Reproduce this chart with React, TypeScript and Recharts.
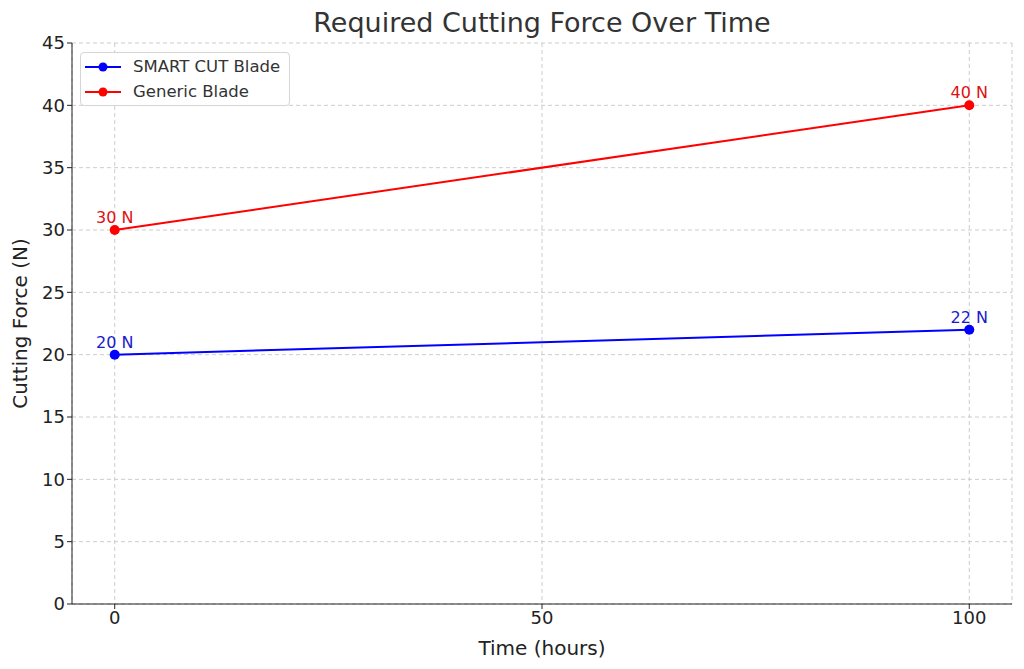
import React from 'react';
import { LineChart, Line, XAxis, YAxis, CartesianGrid, LabelList } from 'recharts';

const hours = [0, 100];
const smartCut = [20, 22];
const generic = [30, 40];
const yTicks = [0, 5, 10, 15, 20, 25, 30, 35, 40, 45];
const xTicks = [0, 50, 100];

const FONT = '"DejaVu Sans", Verdana, sans-serif';

const data = hours.map((h, i) => ({ time: h, smart: smartCut[i], generic: generic[i] }));

const legendItems = [
  { name: 'SMART CUT Blade', color: '#0000ff' },
  { name: 'Generic Blade', color: '#ff0000' },
];

const LegendBox = () => (
  <div
    style={{
      position: 'absolute',
      left: 80,
      top: 52,
      width: 210,
      height: 54,
      boxSizing: 'border-box',
      border: '1px solid #d5d5d5',
      borderRadius: 4,
      background: 'rgba(255,255,255,0.85)',
      padding: '1px 4px',
      fontFamily: FONT,
      fontSize: 16.5,
      color: '#333',
      whiteSpace: 'nowrap',
    }}
  >
    {legendItems.map((s) => (
      <div key={s.name} style={{ display: 'flex', alignItems: 'center', height: 25 }}>
        <svg width={36} height={12} style={{ marginRight: 12, flexShrink: 0 }}>
          <line x1={0} y1={6} x2={36} y2={6} stroke={s.color} strokeWidth={2} />
          <circle cx={18} cy={6} r={4.5} fill={s.color} />
        </svg>
        {s.name}
      </div>
    ))}
  </div>
);

const App = () => (
  <div style={{ position: 'absolute', left: 0, top: 0, width: 1024, height: 669, background: '#fff' }}>
    <div
      style={{
        position: 'absolute',
        top: 7,
        left: 0,
        width: 1024,
        textAlign: 'center',
        fontFamily: FONT,
        fontSize: 27,
        color: '#333',
        paddingLeft: 60,
        boxSizing: 'border-box',
      }}
    >
      Required Cutting Force Over Time
    </div>
    <LineChart width={1024} height={669} data={data} margin={{ top: 43, right: 12, bottom: 0, left: 0 }}>
      <CartesianGrid stroke="#cccccc" strokeDasharray="4 3" />
      <XAxis
        dataKey="time"
        type="number"
        domain={[-5, 105]}
        ticks={xTicks}
        stroke="#222"
        tickSize={5}
        tick={{ fill: '#222', fontSize: 18, fontFamily: FONT }}
        label={{ value: 'Time (hours)', position: 'insideBottom', offset: 14, fill: '#222', fontSize: 20, fontFamily: FONT }}
        height={65}
      />
      <YAxis
        type="number"
        domain={[0, 45]}
        ticks={yTicks}
        width={72}
        stroke="#222"
        tickSize={5}
        tick={{ fill: '#222', fontSize: 18, fontFamily: FONT }}
        label={{ value: 'Cutting Force (N)', angle: -90, position: 'insideLeft', offset: 20, style: { textAnchor: 'middle' }, fill: '#222', fontSize: 20, fontFamily: FONT }}
      />
      <Line dataKey="generic" stroke="#ff0000" strokeWidth={2} dot={{ r: 5, fill: '#ff0000', stroke: '#ff0000', strokeWidth: 0 }} isAnimationActive={false}>
        <LabelList dataKey="generic" position="top" offset={7} formatter={(v: number) => `${v} N`} fill="#e01010" fontSize={16} fontFamily={FONT} />
      </Line>
      <Line dataKey="smart" stroke="#0000ff" strokeWidth={2} dot={{ r: 5, fill: '#0000ff', stroke: '#0000ff', strokeWidth: 0 }} isAnimationActive={false}>
        <LabelList dataKey="smart" position="top" offset={7} formatter={(v: number) => `${v} N`} fill="#1a1acc" fontSize={16} fontFamily={FONT} />
      </Line>
    </LineChart>
    <LegendBox />
  </div>
);

export default App;
